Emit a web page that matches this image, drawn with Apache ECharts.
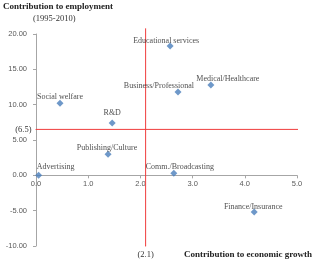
<!DOCTYPE html>
<html>
<head>
<meta charset="utf-8">
<script src="https://cdn.jsdelivr.net/npm/echarts@6/dist/echarts.min.js"></script>
<style>
  html, body { margin: 0; padding: 0; background: #fff; }
  #chart { width: 313px; height: 261px; }
</style>
</head>
<body>
<div id="chart"></div>
<script>
// sectors: contribution to growth (x) vs contribution to employment (y)
const sectors = ['Advertising', 'Publishing/Culture', 'R&D', 'Social welfare', 'Educational services',
  'Business/Professional', 'Medical/Healthcare', 'Comm./Broadcasting', 'Finance/Insurance']
const growth = [0.05, 1.38, 1.46, 0.46, 2.57, 2.72, 3.35, 2.64, 4.18]
const employment = [0.0, 3.0, 7.4, 10.2, 18.3, 11.8, 12.8, 0.3, -5.2]

// reference averages (red lines)
const avgGrowth = 2.1
const avgEmployment = 6.5

// label nudges from the marker centre, px
const labelOffsets = [[17, -8], [-1, -6], [0, -10], [0, -6], [-4, -5], [-19, -6], [17, -6], [6, -6], [-1, -5]]

const serif = '"Liberation Serif", "DejaVu Serif", serif'
const red = '#f03c3c'
const size = 7
const gridH = 261 - 34 - 15

const chart = echarts.init(document.getElementById('chart'))

const points = sectors.map((name, i) => ({
  name: name,
  value: [growth[i], employment[i]],
  label: { position: [size / 2 + labelOffsets[i][0], size / 2 + labelOffsets[i][1]] }
}))

const refLine = {
  type: 'line',
  color: red,
  clip: false,
  symbol: 'circle',
  symbolSize: 1,
  silent: true,
  itemStyle: { color: red },
  lineStyle: { color: red, width: 1, shadowBlur: 0 },
  label: { fontFamily: serif, fontSize: 8.5, color: '#333' }
}

chart.setOption({
  animation: false,
  color: [red, red, '#4a7ebb'],
  grid: { left: 36, right: 16, top: 34, bottom: 15 },
  title: [{
    text: 'Contribution to employment',
    left: 3, top: 2, padding: 0,
    textStyle: { fontFamily: serif, fontSize: 9, fontWeight: 'bold', color: '#222' }
  }, {
    text: '(1995-2010)',
    left: 33, top: 14, padding: 0,
    textStyle: { fontFamily: serif, fontSize: 8.5, fontWeight: 'normal', color: '#333' }
  }, {
    text: 'Contribution to economic growth',
    right: 1, top: 250, padding: 0,
    textStyle: { fontFamily: serif, fontSize: 9, fontWeight: 'bold', color: '#222' }
  }],
  xAxis: {
    type: 'value',
    min: 0, max: 5, interval: 1,
    // axis sits on y = 0, a third of the way up from the bottom
    offset: -gridH * 10 / 30,
    splitLine: { show: false },
    axisLine: { onZero: false, lineStyle: { color: '#a6a6a6' } },
    axisTick: { length: 3, lineStyle: { color: '#a6a6a6' } },
    axisLabel: {
      margin: 5, fontSize: 7.5, color: '#595959', fontFamily: 'Liberation Sans',
      formatter: v => v.toFixed(1)
    }
  },
  yAxis: {
    type: 'value',
    min: -10, max: 20, interval: 5,
    splitLine: { show: false },
    axisLine: { show: true, onZero: false, lineStyle: { color: '#a6a6a6' } },
    axisTick: { show: true, length: 3, lineStyle: { color: '#a6a6a6' } },
    axisLabel: {
      margin: 9, fontSize: 7.5, color: '#595959', fontFamily: 'Liberation Sans',
      formatter: v => v.toFixed(2)
    }
  },
  series: [Object.assign({}, refLine, {
    data: [
      { value: [avgGrowth, 20.8], symbol: 'none' },
      { value: [avgGrowth, -10], label: { show: true, position: 'bottom', distance: 4, formatter: '(' + avgGrowth + ')' } }
    ]
  }), Object.assign({}, refLine, {
    data: [
      { value: [0, avgEmployment], label: { show: true, position: 'left', distance: 4, formatter: '(' + avgEmployment + ')' } },
      { value: [5.27, avgEmployment], symbol: 'none' }
    ]
  }), {
    type: 'scatter',
    symbol: 'diamond',
    symbolSize: size,
    itemStyle: { color: '#4a7ebb' },
    z: 5,
    label: {
      show: true,
      align: 'center',
      verticalAlign: 'middle',
      formatter: p => p.name,
      fontFamily: serif,
      fontSize: 8,
      color: '#222'
    },
    labelLayout: { hideOverlap: false },
    data: points
  }]
})
</script>
</body>
</html>
